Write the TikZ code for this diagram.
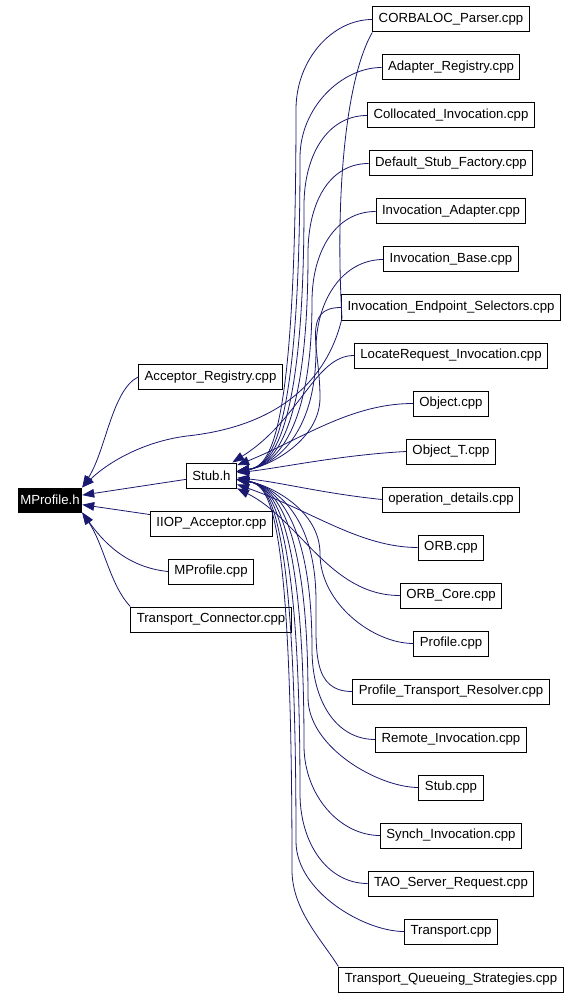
\documentclass[tikz,border=0pt]{standalone}
\usepackage{fontspec}
\setmainfont{Liberation Sans}
\usetikzlibrary{arrows.meta}
\definecolor{edgeblue}{HTML}{191970}
\tikzset{
	file/.style={draw, font=\fontsize{9.9}{12}\selectfont, minimum height=18.75pt,
		inner xsep=4.5pt, inner ysep=0pt, line width=0.75pt},
	dep/.style={draw=edgeblue, line width=0.6pt, -{Triangle[length=9pt,width=6.5pt]}}
}
\begin{document}
\begin{tikzpicture}[x=0.75pt,y=-0.75pt]
	\useasboundingbox (0,0) rectangle (582,998);
	
	% header and direct includers
	\node[file, fill=black, text=white, inner xsep=1.5pt, minimum height=18pt] (mprofileh) at (50,500) {MProfile.h};
	\node[file] (stubh) at (211.5,475.5) {Stub.h};
	\node[file] (acceptorreg) at (210.5,377) {Acceptor\_Registry.cpp};
	\node[file] (iiop) at (211.5,523.5) {IIOP\_Acceptor.cpp};
	\node[file] (mprofilecpp) at (211,571.5) {MProfile.cpp};
	\node[file] (transportconn) at (211,619.5) {Transport\_Connector.cpp};
	
	% files including Stub.h
	\foreach \n/\t [count=\i from 0] in {corbaloc/CORBALOC\_Parser.cpp, adapterreg/Adapter\_Registry.cpp,
		colloc/Collocated\_Invocation.cpp, defstub/Default\_Stub\_Factory.cpp, invadapter/Invocation\_Adapter.cpp,
		invbase/Invocation\_Base.cpp, endpoint/Invocation\_Endpoint\_Selectors.cpp, locreq/LocateRequest\_Invocation.cpp,
		object/Object.cpp, objectt/Object\_T.cpp, opdetails/operation\_details.cpp, orb/ORB.cpp, orbcore/ORB\_Core.cpp,
		profile/Profile.cpp, ptr/Profile\_Transport\_Resolver.cpp, remote/Remote\_Invocation.cpp, stubcpp/Stub.cpp,
		synch/Synch\_Invocation.cpp, tao/TAO\_Server\_Request.cpp, transport/Transport.cpp,
		tqs/Transport\_Queueing\_Strategies.cpp}
	\node[file] (\n) at (451,{19.5+48*\i}) {\t};
	
	% edges into MProfile.h
	\draw[dep] (stubh) -- (mprofileh);
	\draw[dep] (iiop) -- (mprofileh);
	\draw[dep] (acceptorreg.west) .. controls (112,390) and (106,450) .. (mprofileh.north east);
	\draw[dep] (mprofilecpp.west) .. controls (125,567) and (102,540) .. (mprofileh.south east);
	\draw[dep] (transportconn.north west) .. controls (110,585) and (104,545) .. (mprofileh.south east);
	\draw[dep] (corbaloc.south west) .. controls (345,80) and (335,200) .. (342,318)
		.. controls (330,370) and (290,425) .. (187,436) .. controls (140,442) and (105,465) .. (mprofileh.north east);
	
	% edges into Stub.h, upper bundle
	\foreach \n/\bx [count=\i from 0] in {corbaloc/296, adapterreg/300, colloc/304, defstub/308,
		invadapter/312, invbase/316, endpoint/320}
	\draw[dep] (\n.west) .. controls +(-40,0) and (\bx,{19.5+48*\i+40}) .. (\bx,{19.5+48*\i+90})
		.. controls (\bx,440) and (270,466) .. (stubh);
	\draw[dep] (locreq.west) .. controls (315,355.5) and (300,420) .. (stubh);
	\draw[dep] (object.west) .. controls (350,403.5) and (300,440) .. (stubh);
	\draw[dep] (objectt.west) .. controls (340,455) and (280,468) .. (stubh);
	\draw[dep] (opdetails.west) .. controls (320,493) and (280,482) .. (stubh);
	\draw[dep] (orb.west) .. controls (360,547.5) and (310,510) .. (stubh);
	\draw[dep] (orbcore.west) .. controls (330,595.5) and (300,520) .. (stubh);
	
	% lower bundle
	\foreach \n/\bx [count=\i from 13] in {profile/320, ptr/316, remote/312, stubcpp/308,
		synch/304, tao/300, transport/296}
	\draw[dep] (\n.west) .. controls +(-40,0) and (\bx,{19.5+48*\i-40}) .. (\bx,{19.5+48*\i-90})
		.. controls (\bx,510) and (270,485) .. (stubh);
	\draw[dep] (tqs.north west) .. controls (322,940) and (292,910) .. (292,870)
		.. controls (292,510) and (270,485) .. (stubh);
\end{tikzpicture}
\end{document}
